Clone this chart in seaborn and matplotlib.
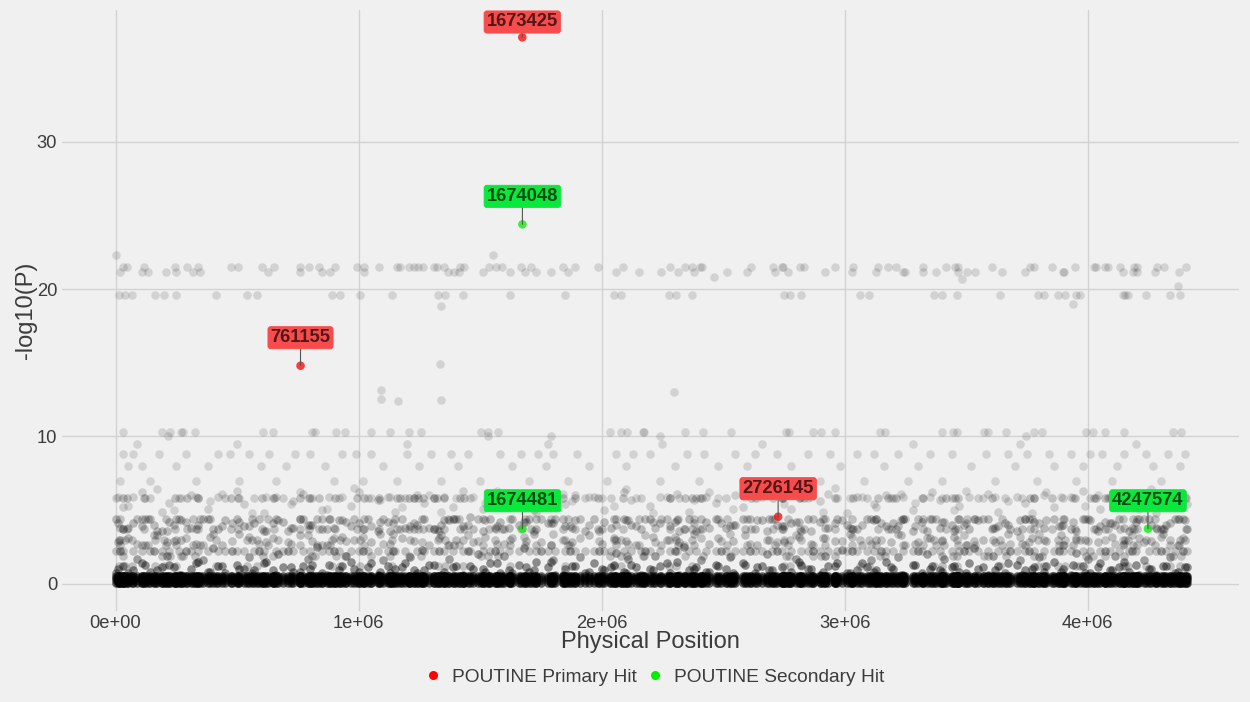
import matplotlib
matplotlib.use("Agg")
import matplotlib.pyplot as plt
from matplotlib.lines import Line2D
import pandas as pd
import seaborn as sns

# ------------------------------------------------------------------ data
# Background SNPs (position in Mb) for the sparse, strongly associated rows
sig_x_215 = [0.029, 0.048, 0.116, 0.245, 0.293, 0.341, 0.475, 0.502, 0.603, 0.652, 0.759, 0.797,
             0.839, 0.904, 0.994, 1.022, 1.084, 1.159, 1.172, 1.207, 1.230, 1.243, 1.267, 1.309,
             1.322, 1.353, 1.416, 1.432, 1.538, 1.566, 1.590, 1.668, 1.708, 1.842, 1.889, 1.984,
             2.086, 2.283, 2.343, 2.371, 2.406, 2.414, 2.613, 2.707, 2.744, 2.748, 2.814, 2.833,
             2.959, 3.036, 3.137, 3.178, 3.211, 3.321, 3.415, 3.454, 3.468, 3.605, 3.762, 3.777,
             3.854, 3.948, 4.026, 4.034, 4.069, 4.085, 4.133, 4.190, 4.201, 4.283, 4.314, 4.402]
sig_x_212 = [0.018, 0.108, 0.135, 0.209, 0.250, 0.318, 0.348, 0.628, 0.759, 0.850, 0.882, 1.021,
             1.369, 1.393, 1.413, 1.511, 1.624, 1.684, 1.732, 1.791, 1.862, 2.058, 2.152, 2.244,
             2.315, 2.381, 2.517, 2.597, 2.715, 2.767, 2.920, 3.031, 3.130, 3.240, 3.250, 3.324,
             3.376, 3.468, 3.503, 3.536, 3.648, 3.742, 3.896, 3.902, 4.146, 4.184, 4.201, 4.278,
             4.375]
sig_x_196 = [0.014, 0.040, 0.066, 0.163, 0.198, 0.250, 0.415, 0.543, 0.583, 0.891, 0.925, 1.005,
             1.137, 1.325, 1.356, 1.429, 1.624, 1.850, 2.051, 2.080, 2.278, 2.307, 2.370, 2.752,
             2.774, 2.822, 3.061, 3.099, 3.369, 3.399, 3.462, 3.640, 3.795, 3.821, 3.876, 3.907,
             3.951, 3.968, 4.143, 4.155, 4.166, 4.239, 4.338, 4.379]
sig_x_103 = [0.031, 0.193, 0.223, 0.271, 0.278, 0.327, 0.608, 0.650, 0.808, 0.819, 0.907, 0.945,
             1.051, 1.128, 1.207, 1.256, 1.505, 1.531, 1.572, 2.034, 2.080, 2.103, 2.170, 2.176,
             2.344, 2.415, 2.531, 2.758, 2.770, 2.868, 2.904, 2.962, 3.146, 3.165, 3.399, 3.446,
             3.461, 3.572, 3.589, 3.662, 3.778, 3.811, 3.992, 4.020, 4.071, 4.148, 4.350, 4.383]
sig_x_100 = [0.218, 1.531, 1.790, 2.241, 3.747]
misc_x = [0.001, 1.552, 1.339, 1.337, 1.092, 1.092, 1.339, 1.163, 2.296, 4.371, 3.940, 2.461, 3.484]
misc_y = [22.3, 22.3, 18.85, 14.9, 13.17, 12.56, 12.47, 12.42, 12.99, 20.2, 19.0, 20.8, 20.7]

# Moderately associated rows (position in Mb)
mid_x_95 = [0.09, 0.50, 1.20, 1.78, 2.25, 2.66, 3.28, 3.72, 4.20]
mid_x_88 = [0.03, 0.07, 0.18, 0.29, 0.42, 0.47, 0.55, 0.63, 0.74, 0.80, 0.93, 0.99, 1.05, 1.20,
            1.30, 1.38, 1.45, 1.58, 1.67, 1.74, 1.80, 1.90, 2.06, 2.13, 2.20, 2.35, 2.42, 2.55,
            2.63, 2.72, 2.85, 2.94, 3.05, 3.12, 3.22, 3.35, 3.44, 3.58, 3.67, 3.75, 3.84, 3.93,
            4.01, 4.06, 4.15, 4.24, 4.33, 4.40]
mid_x_80 = [0.05, 0.11, 0.25, 0.38, 0.60, 0.70, 0.86, 1.10, 1.25, 1.41, 1.63, 1.77, 1.95, 2.10,
            2.30, 2.48, 2.60, 2.78, 2.98, 3.16, 3.30, 3.52, 3.70, 3.86, 3.98, 4.12, 4.27, 4.38]
mid_x_70 = [0.02, 0.14, 0.33, 0.51, 0.66, 0.90, 1.02, 1.16, 1.34, 1.50, 1.70, 1.86, 2.02, 2.24,
            2.40, 2.58, 2.75, 2.90, 3.08, 3.26, 3.40, 3.62, 3.79, 3.95, 4.10, 4.30]

# Dense, weakly associated SNPs: position lists (Mb)
dense_a = [0.00, 0.03, 0.07, 0.11, 0.14, 0.19, 0.22, 0.26, 0.31, 0.34, 0.38, 0.42, 0.45, 0.50,
           0.53, 0.57, 0.61, 0.66, 0.69, 0.73, 0.77, 0.80, 0.85, 0.88, 0.92, 0.97, 1.00, 1.04,
           1.08, 1.12, 1.15, 1.19, 1.24, 1.27, 1.31, 1.35, 1.39, 1.43, 1.46, 1.51, 1.54, 1.58,
           1.62, 1.66, 1.70, 1.73, 1.78, 1.81, 1.85, 1.89, 1.93, 1.97, 2.01, 2.04, 2.09, 2.12,
           2.16, 2.20, 2.24, 2.28, 2.31, 2.36, 2.39, 2.43, 2.47, 2.51, 2.55, 2.58, 2.63, 2.66,
           2.70, 2.74, 2.78, 2.82, 2.85, 2.90, 2.93, 2.97, 3.01, 3.05, 3.09, 3.12, 3.17, 3.20,
           3.24, 3.28, 3.32, 3.36, 3.39, 3.44, 3.47, 3.51, 3.55, 3.59, 3.63, 3.66, 3.71, 3.74,
           3.78, 3.82, 3.86, 3.90, 3.93, 3.98, 4.01, 4.05, 4.09, 4.13, 4.17, 4.20, 4.25, 4.28,
           4.32, 4.36, 4.41]
dense_b = [0.02, 0.09, 0.16, 0.21, 0.29, 0.36, 0.40, 0.48, 0.55, 0.59, 0.67, 0.71, 0.79, 0.83,
           0.90, 0.95, 1.02, 1.10, 1.14, 1.21, 1.26, 1.33, 1.37, 1.45, 1.49, 1.56, 1.60, 1.68,
           1.75, 1.80, 1.87, 1.91, 1.99, 2.06, 2.11, 2.18, 2.22, 2.30, 2.34, 2.41, 2.49, 2.53,
           2.61, 2.68, 2.72, 2.80, 2.87, 2.92, 2.99, 3.03, 3.11, 3.15, 3.22, 3.30, 3.34, 3.41,
           3.49, 3.53, 3.61, 3.68, 3.72, 3.76, 3.80, 3.88, 3.95, 4.00, 4.07, 4.11, 4.18, 4.23,
           4.30, 4.34, 4.39]
dense_c = [0.01, 0.05, 0.12, 0.17, 0.24, 0.27, 0.33, 0.39, 0.44, 0.51, 0.56, 0.62, 0.65, 0.72,
           0.76, 0.81, 0.87, 0.93, 0.98, 1.05, 1.09, 1.13, 1.18, 1.23, 1.29, 1.34, 1.40, 1.47,
           1.52, 1.57, 1.63, 1.69, 1.72, 1.79, 1.84, 1.88, 1.95, 2.00, 2.05, 2.10, 2.14, 2.21,
           2.27, 2.32, 2.38, 2.44, 2.48, 2.54, 2.59, 2.64, 2.69, 2.75, 2.81, 2.86, 2.91, 2.96,
           3.02, 3.07, 3.13, 3.19, 3.23, 3.29, 3.35, 3.40, 3.45, 3.50, 3.57, 3.62, 3.67, 3.73,
           3.77, 3.83, 3.89, 3.94, 3.99, 4.04, 4.10, 4.15, 4.21, 4.26, 4.31, 4.37, 4.40]

# -log10(P) of the dense SNPs, paired with the position lists above
y_b1a = [0.7, 1.2, 0.9, 1.4, 0.8, 1.1, 1.3, 0.6, 1.0, 1.5, 0.8, 1.2, 0.7, 1.3, 1.0, 0.9, 1.4, 0.6,
         1.1, 0.8, 1.2, 1.0, 0.7, 1.3, 0.9, 1.5, 0.8, 1.1, 0.6, 1.2, 1.0, 1.4, 0.7, 0.9, 1.3, 0.8,
         1.1, 0.6, 1.2, 1.0, 1.4, 0.7, 0.9, 1.3, 0.8, 1.5, 1.1, 0.6, 1.0, 1.2, 0.7, 1.4, 0.9, 1.1,
         0.8, 1.3, 0.6, 1.0, 1.2, 0.7, 1.5, 0.9, 1.1, 0.8, 1.3, 1.0, 0.6, 1.4, 0.7, 1.2, 0.9, 1.1,
         0.8, 1.3, 1.0, 0.6, 1.2, 1.4, 0.7, 0.9, 1.1, 0.8, 1.5, 1.0, 0.6, 1.3, 0.7, 1.2, 0.9, 1.1,
         0.8, 1.4, 1.0, 0.6, 1.2, 0.7, 1.3, 0.9, 1.1, 0.8, 1.5, 1.0, 0.6, 1.2, 0.7, 1.4, 0.9, 1.1,
         0.8, 1.3, 1.0, 0.6, 1.2, 0.7, 1.1]
y_b1c = [1.0, 0.7, 1.3, 0.9, 1.1, 0.6, 1.4, 0.8, 1.2, 1.0, 0.7, 1.5, 0.9, 1.1, 0.8, 1.3, 0.6, 1.2,
         1.0, 1.4, 0.8, 0.7, 1.1, 0.9, 1.3, 0.6, 1.2, 1.0, 0.8, 1.4, 0.7, 1.1, 0.9, 1.5, 0.6, 1.2,
         0.8, 1.0, 1.3, 0.7, 1.1, 0.9, 1.4, 0.6, 1.0, 0.8, 1.2, 0.7, 1.3, 1.1, 0.9, 0.6, 1.5, 1.0,
         0.8, 1.2, 0.7, 1.4, 0.9, 1.1, 0.6, 1.3, 1.0, 0.8, 1.2, 0.7, 1.1, 0.9, 1.4, 0.6, 1.0, 1.2,
         0.8, 1.3, 0.7, 1.1, 0.9, 1.5, 0.6, 1.0, 1.2, 0.8, 1.1]
y_b2b = [2.2, 1.7, 2.2, 1.9, 2.2, 1.6, 2.4, 2.2, 1.8, 2.2, 2.0, 2.2, 1.7, 2.5, 2.2, 1.9, 2.2, 1.6,
         2.2, 1.8, 2.3, 2.2, 1.7, 2.2, 2.0, 2.2, 1.9, 2.4, 2.2, 1.6, 2.2, 1.8, 2.2, 2.1, 1.7, 2.2,
         1.9, 2.2, 2.5, 1.6, 2.2, 1.8, 2.2, 2.0, 2.2, 1.7, 2.2, 1.9, 2.3, 2.2, 1.6, 2.2, 1.8, 2.2,
         2.0, 1.7, 2.2, 2.4, 1.9, 2.2, 1.6, 2.2, 1.8, 2.2, 2.1, 1.7, 2.2, 1.9, 2.2, 1.6, 2.2, 1.8,
         2.2]
y_b3c = [2.8, 3.1, 2.6, 3.3, 2.9, 3.0, 2.7, 3.2, 2.6, 3.4, 3.0, 2.8, 3.1, 2.7, 3.3, 2.9, 2.6, 3.2,
         3.0, 2.8, 3.4, 2.7, 3.1, 2.9, 2.6, 3.3, 3.0, 2.8, 3.2, 2.7, 3.1, 2.9, 3.4, 2.6, 3.0, 2.8,
         3.3, 2.7, 3.1, 2.9, 2.6, 3.2, 3.0, 2.8, 3.4, 2.7, 3.1, 2.9, 3.3, 2.6, 3.0, 2.8, 3.2, 2.7,
         3.1, 2.9, 3.4, 2.6, 3.0, 2.8, 3.3, 2.7, 3.1, 2.9, 3.2, 2.6, 3.0, 2.8, 3.4, 2.7, 3.1, 2.9,
         3.3, 2.6, 3.0, 2.8, 3.2, 2.7, 3.1, 2.9, 3.4, 2.6, 3.0]
y_b3b = [3.0, 2.7, 3.3, 2.8, 3.1, 2.6, 3.4, 2.9, 3.2, 2.7, 3.0, 2.8, 3.3, 2.6, 3.1, 2.9, 3.2, 2.7,
         3.4, 3.0, 2.8, 3.1, 2.6, 3.3, 2.9, 3.0, 2.7, 3.2, 2.8, 3.4, 2.6, 3.1, 2.9, 3.0, 2.7, 3.3,
         2.8, 3.2, 2.6, 3.1, 2.9, 3.4, 2.7, 3.0, 2.8, 3.3, 2.6, 3.1, 2.9, 3.2, 2.7, 3.0, 3.4, 2.8,
         3.1, 2.6, 3.3, 2.9, 3.0, 2.7, 3.2, 2.8, 3.4, 2.6, 3.1, 2.9, 3.0, 2.7, 3.3, 2.8, 3.2, 2.6,
         3.1]
y_b4a = [4.4, 3.7, 4.1, 3.9, 4.4, 3.6, 4.2, 4.4, 3.8, 4.0, 4.4, 3.7, 4.3, 4.4, 3.9, 4.1, 3.6, 4.4,
         4.2, 3.8, 4.4, 4.0, 3.7, 4.4, 4.3, 3.9, 4.1, 4.4, 3.6, 4.2, 4.4, 3.8, 4.0, 4.4, 3.7, 4.3,
         4.4, 3.9, 4.5, 3.6, 4.4, 4.2, 3.8, 4.0, 4.4, 3.7, 4.1, 4.4, 3.9, 4.3, 3.6, 4.4, 4.2, 3.8,
         4.4, 4.0, 3.7, 4.4, 4.1, 3.9, 4.3, 4.4, 3.6, 4.2, 4.4, 3.8, 4.0, 4.4, 3.7, 4.3, 4.4, 3.9,
         4.1, 3.6, 4.4, 4.2, 3.8, 4.4, 4.0, 3.7, 4.4, 4.3, 3.9, 4.1, 4.4, 3.6, 4.2, 4.4, 3.8, 4.0,
         4.4, 3.7, 4.3, 4.4, 3.9, 4.1, 3.6, 4.4, 4.2, 3.8, 4.4, 4.0, 3.7, 4.4, 4.3, 3.9, 4.1, 4.4,
         3.6, 4.2, 4.4, 3.8, 4.0, 4.4, 3.7]
y_b4b = [3.8, 4.4, 4.0, 3.6, 4.2, 4.4, 3.7, 4.1, 3.9, 4.4, 4.3, 3.6, 4.0, 4.4, 3.8, 4.2, 3.7, 4.4,
         4.1, 3.9, 4.4, 3.6, 4.3, 4.0, 4.4, 3.8, 3.7, 4.2, 4.4, 4.1, 3.9, 4.4, 3.6, 4.0, 4.3, 4.4,
         3.8, 4.2, 3.7, 4.4, 4.1, 3.9, 4.4, 3.6, 4.0, 4.2, 4.4, 3.8, 4.3, 3.7, 4.4, 4.1, 3.9, 4.4,
         3.6, 4.2, 4.0, 4.4, 3.8, 3.7, 4.3, 4.4, 4.1, 3.9, 3.6, 4.4, 4.2, 4.0, 3.8, 4.4, 3.7, 4.1,
         4.4]
y_b4c = [4.1, 3.8, 4.4, 3.6, 4.0, 4.3, 3.7, 4.4, 3.9, 4.2, 4.4, 3.6, 4.1, 3.8, 4.4, 4.0, 3.7, 4.3,
         4.4, 3.9, 4.2, 3.6, 4.4, 4.1, 3.8, 4.0, 4.4, 3.7, 4.3, 3.9, 4.4, 4.2, 3.6, 4.1, 4.4, 3.8,
         4.0, 3.7, 4.4, 4.3, 3.9, 4.2, 4.4, 3.6, 4.1, 3.8, 4.4, 4.0, 3.7, 4.3, 4.4, 3.9, 4.2, 3.6,
         4.4, 4.1, 3.8, 4.0, 4.4, 3.7, 4.3, 3.9, 4.4, 4.2, 3.6, 4.1, 4.4, 3.8, 4.0, 3.7, 4.4, 4.3,
         3.9, 4.2, 4.4, 3.6, 4.1, 3.8, 4.4, 4.0, 3.7, 4.4, 4.3]
y_b5a = [5.8, 5.2, 5.9, 6.2, 5.8, 4.9, 5.5, 5.8, 6.0, 5.8, 5.1, 5.9, 5.8, 6.3, 5.4, 5.8, 4.8, 5.9,
         5.8, 5.6, 6.1, 5.8, 5.0, 5.9, 5.8, 5.3, 6.2, 5.8, 5.7, 5.9, 4.9, 5.8, 6.0, 5.5, 5.8, 5.9,
         5.2, 6.3, 5.8, 5.1, 5.9, 5.8, 5.6, 6.1, 5.8, 4.8, 5.9, 5.8, 5.4, 6.0, 5.8, 5.9, 5.0, 5.8,
         6.2, 5.7, 5.8, 5.3, 5.9, 5.8, 6.1, 4.9, 5.8, 5.9, 5.5, 5.8, 6.0, 5.2, 5.8, 5.9, 6.3, 5.8,
         5.1, 5.9, 5.8, 5.6, 6.1, 5.8, 4.8, 5.9, 5.8, 5.4, 6.0, 5.8, 5.9, 5.0, 5.8, 6.2, 5.7, 5.8,
         5.3, 5.9, 5.8, 6.1, 4.9, 5.8, 5.9, 5.5, 5.8, 6.0, 5.2, 5.8, 5.9, 6.3, 5.8, 5.1, 5.9, 5.8,
         5.6, 6.1, 5.8, 4.8, 5.9, 5.8, 5.4]
y_b5c = [5.9, 5.3, 5.8, 6.4, 5.0, 5.8, 5.9, 5.6, 6.1, 5.8, 4.8, 5.9, 5.8, 5.4, 6.2, 5.8, 5.1, 5.9,
         6.5, 5.8, 5.7, 5.9, 5.2, 5.8, 6.0, 4.9, 5.8, 5.9, 5.5, 6.3, 5.8, 5.9, 5.0, 5.8, 6.1, 5.6,
         5.9, 5.8, 5.3, 6.4, 5.8, 4.8, 5.9, 5.8, 5.7, 6.2, 5.8, 5.1, 5.9, 5.8, 6.0, 5.4, 5.8, 5.9,
         4.9, 6.5, 5.8, 5.9, 5.2, 5.8, 6.1, 5.5, 5.9, 5.8, 5.0, 6.3, 5.8, 5.9, 5.6, 5.8, 4.8, 6.2,
         5.9, 5.8, 5.3, 6.0, 5.8, 5.9, 5.1, 6.4, 5.8, 5.7, 5.9]
# near-zero rows shared by all position lists, and a few extra discrete rows
base_levels = [0.05, 0.22, 0.4, 0.55]
extra_rows = [(2.2, "dense_a"), (4.4, "sig_x_212"), (3.0, "sig_x_196"), (1.9, "sig_x_103"),
              (5.8, "sig_x_215"), (3.7, "sig_x_215"), (1.2, "sig_x_196"), (2.6, "sig_x_212")]

# POUTINE hits
hit_pos = [1673425, 761155, 2726145, 1674048, 1674481, 4247574]
hit_logp = [37.1, 14.8, 4.55, 24.4, 3.73, 3.73]
hit_type = ["POUTINE Primary Hit"] * 3 + ["POUTINE Secondary Hit"] * 3

# ------------------------------------------------------------------ style
sns.set_theme(style="white")
plt.rcParams["font.family"] = ["Liberation Sans", "DejaVu Sans"]
BG = "#F0F0F0"
TXT = "#3C3C3C"
GRID = "#D2D2D2"
PT_S = 38

fig = plt.figure(figsize=(12.5, 7.02), dpi=100, facecolor=BG)
ax = fig.add_axes([62 / 1250, 1 - 611 / 702, (1239 - 62) / 1250, (611 - 10) / 702])
ax.set_facecolor(BG)


def bg(xs_mb, ys, alpha):
    sns.scatterplot(x=[x * 1e6 for x in xs_mb], y=list(ys), color="black", alpha=alpha,
                    s=PT_S, linewidth=0, ax=ax, legend=False, zorder=2)


named = {"dense_a": dense_a, "dense_b": dense_b, "dense_c": dense_c,
         "sig_x_215": sig_x_215, "sig_x_212": sig_x_212, "sig_x_196": sig_x_196,
         "sig_x_103": sig_x_103}

# near-zero rows: every position list at each level
for xs in named.values():
    bg([x for lv in base_levels for x in xs], [lv for lv in base_levels for x in xs], 0.6)
for lv, key in extra_rows:
    bg(named[key], [lv] * len(named[key]), 0.2)

# paired rows
for xs, ys, alpha in [(dense_a, y_b1a, 0.42), (dense_c, y_b1c, 0.42), (dense_b, y_b2b, 0.35),
                      (dense_c, y_b3c, 0.22), (dense_b, y_b3b, 0.2), (dense_a, y_b4a, 0.24),
                      (dense_b, y_b4b, 0.22), (dense_c, y_b4c, 0.22), (dense_a, y_b5a, 0.15),
                      (dense_c, y_b5c, 0.13)]:
    pairs = list(zip(xs, ys))
    bg([p[0] for p in pairs], [p[1] for p in pairs], alpha)

sparse_groups = [(sig_x_215, 21.5), (sig_x_212, 21.15), (sig_x_196, 19.6),
                 (sig_x_103, 10.3), (sig_x_100, 10.0), (mid_x_95, 9.5),
                 (mid_x_88, 8.8), (mid_x_80, 8.0), (mid_x_70, 7.0)]
bx, by = [], []
for xs, lv in sparse_groups:
    bx += list(xs)
    by += [lv] * len(xs)
bx += misc_x
by += misc_y
bg(bx, by, 0.12)

hits = pd.DataFrame({"pos": hit_pos, "logp": hit_logp, "type": hit_type})
pal = {"POUTINE Primary Hit": "#FF0000", "POUTINE Secondary Hit": "#00EE00"}
sns.scatterplot(data=hits, x="pos", y="logp", hue="type", palette=pal, alpha=0.75,
                s=PT_S, linewidth=0, ax=ax, legend=False, zorder=4)

# axes limits with 5% expansion
xmax = max(max(hit_pos), max(bx) * 1e6)
ax.set_xlim(-0.05 * xmax, xmax * 1.05)
ymax = max(hit_logp)
ax.set_ylim(-0.05 * ymax, ymax * 1.05)

# labels
box_fc = {"POUTINE Primary Hit": "#F84C4C", "POUTINE Secondary Hit": "#0AE83C"}
fig.canvas.draw()
ax_top = ax.transAxes.transform((0, 1))[1]
for p, lp, t in zip(hit_pos, hit_logp, hit_type):
    py = ax.transData.transform((p, lp))[1]
    off_px = 28
    if py + off_px + 12 > ax_top:
        off_px = ax_top - py - 12
    ax.annotate(str(p), xy=(p, lp), xytext=(0, off_px * 0.72), textcoords="offset points",
                ha="center", va="center", fontsize=13.2, fontweight="bold",
                color=(0, 0, 0, 0.68), zorder=6,
                bbox=dict(boxstyle="round,pad=0.14,rounding_size=0.15", fc=box_fc[t],
                          ec=box_fc[t], lw=0.6),
                arrowprops=dict(arrowstyle="-", color="#555555", lw=0.8,
                                shrinkA=0, shrinkB=0))

# ticks / grid
ax.set_xticks([0, 1e6, 2e6, 3e6, 4e6])
ax.set_xticklabels(["0e+00", "1e+06", "2e+06", "3e+06", "4e+06"])
ax.set_yticks([0, 10, 20, 30])
ax.set_yticklabels(["0", "10", "20", "30"])
ax.tick_params(axis="both", length=0, labelsize=13.2, labelcolor=TXT)
ax.tick_params(axis="x", pad=3)
ax.tick_params(axis="y", pad=3.6)
ax.grid(True, color=GRID, linewidth=1.0)
ax.set_axisbelow(True)
for sp in ax.spines.values():
    sp.set_visible(False)

ax.set_xlabel("Physical Position", fontsize=17, color=TXT)
ax.set_ylabel("-log10(P)", fontsize=17, color=TXT)
ax.xaxis.set_label_coords(0.5, -0.033)
ax.yaxis.set_label_coords(-0.0215, 0.5)

handles = [Line2D([], [], marker="o", linestyle="", markersize=6.5, color=pal[k],
                  markeredgewidth=0) for k in pal]
fig.legend(handles, list(pal.keys()), loc="center", bbox_to_anchor=(0.523, 0.0356),
           ncol=2, frameon=False, fontsize=13.8, handlelength=1.0, handletextpad=0.5,
           columnspacing=0.45, labelcolor=TXT)

fig.savefig("out.png", dpi=100, facecolor=BG)
